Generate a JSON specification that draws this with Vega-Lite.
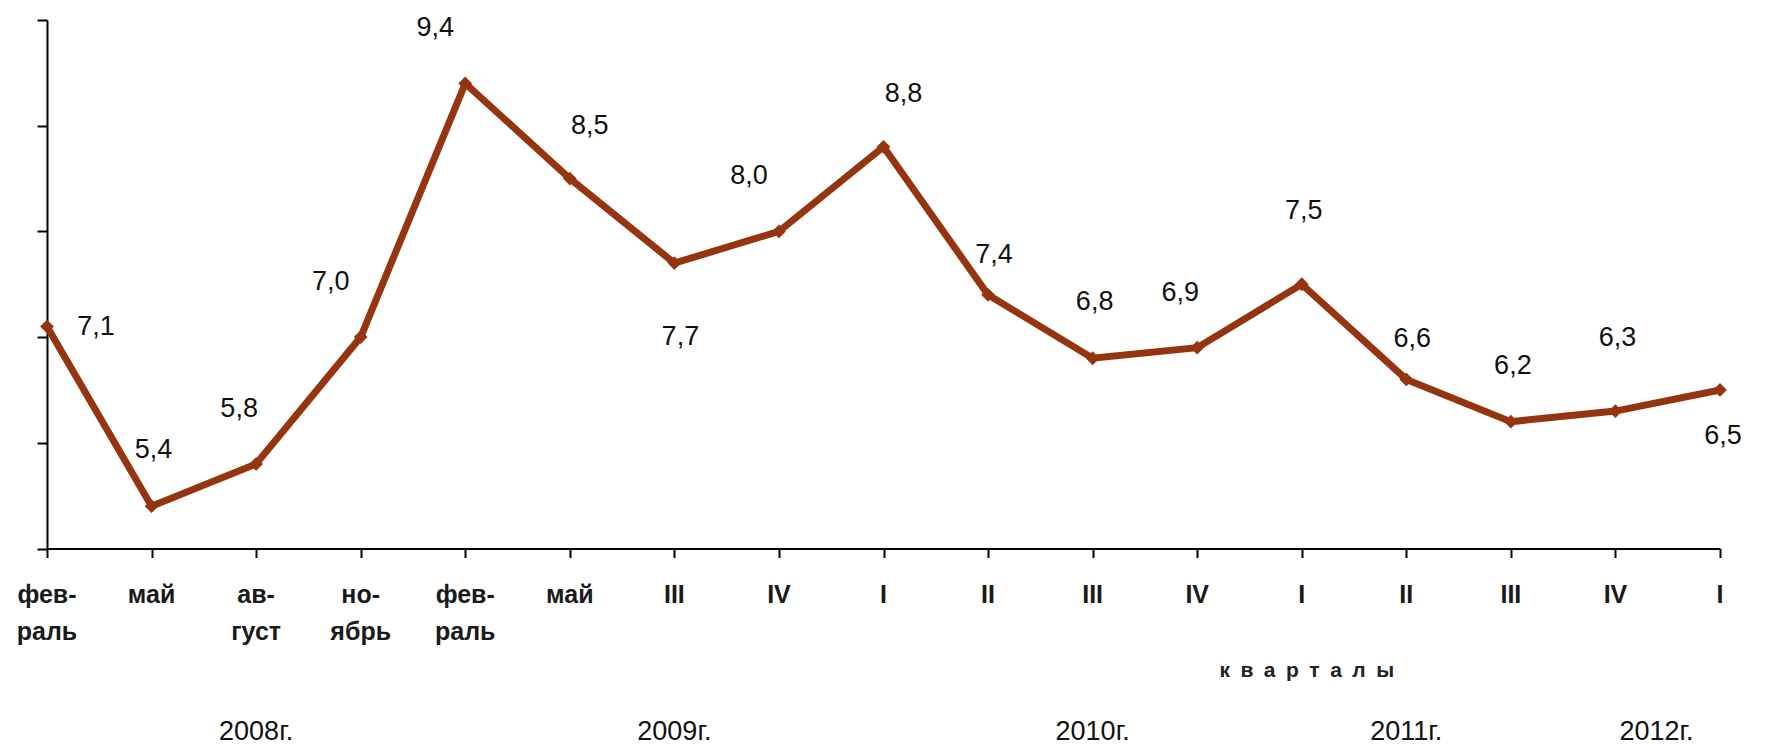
{
  "$schema": "https://vega.github.io/schema/vega-lite/v6.json",
  "autosize": {"type": "none"},
  "width": 1673,
  "height": 528.5,
  "padding": {"left": 47, "top": 20, "right": 46, "bottom": 203.5},
  "background": "white",
  "config": {
    "view": {"stroke": null},
    "font": "Liberation Sans",
    "locale": {"number": {"decimal": ",", "thousands": " ", "grouping": [3], "currency": ["", ""]}}
  },
  "datasets": {
    "main": [
      {"period": "2008-02", "label": "фев-|раль", "value": 7.1},
      {"period": "2008-05", "label": "май", "value": 5.4},
      {"period": "2008-08", "label": "ав-|густ", "value": 5.8},
      {"period": "2008-11", "label": "но-|ябрь", "value": 7.0},
      {"period": "2009-02", "label": "фев-|раль", "value": 9.4},
      {"period": "2009-05", "label": "май", "value": 8.5},
      {"period": "2009-Q3", "label": "III", "value": 7.7},
      {"period": "2009-Q4", "label": "IV", "value": 8.0},
      {"period": "2010-Q1", "label": "I", "value": 8.8},
      {"period": "2010-Q2", "label": "II", "value": 7.4},
      {"period": "2010-Q3", "label": "III", "value": 6.8},
      {"period": "2010-Q4", "label": "IV", "value": 6.9},
      {"period": "2011-Q1", "label": "I", "value": 7.5},
      {"period": "2011-Q2", "label": "II", "value": 6.6},
      {"period": "2011-Q3", "label": "III", "value": 6.2},
      {"period": "2011-Q4", "label": "IV", "value": 6.3},
      {"period": "2012-Q1", "label": "I", "value": 6.5}
    ],
    "years": [
      {"period": "2008-08", "text": "2008г."},
      {"period": "2009-Q3", "text": "2009г."},
      {"period": "2010-Q3", "text": "2010г."},
      {"period": "2011-Q2", "text": "2011г."},
      {"period": "2011-Q4", "text": "2012г."}
    ],
    "notes": [
      {"period": "2011-Q1", "text": "к\u2002в\u2002а\u2002р\u2002т\u2002а\u2002л\u2002ы"}
    ]
  },
  "encoding": {
    "x": {
      "field": "period", "type": "ordinal", "sort": null,
      "scale": {"type": "point", "padding": 0},
      "axis": {"labels": false, "title": null, "domainColor": "black", "domainWidth": 2, "tickColor": "black", "tickWidth": 2, "tickSize": 9, "grid": false}
    }
  },
  "layer": [
    {
      "data": {"name": "main"},
      "mark": {"type": "line", "color": "#953510", "strokeWidth": 7, "strokeJoin": "miter", "point": {"shape": "diamond", "size": 190, "filled": true, "color": "#953510", "opacity": 1}},
      "encoding": {
        "y": {
          "field": "value", "type": "quantitative",
          "scale": {"domain": [5, 10], "nice": false, "zero": false},
          "axis": {"labels": false, "title": null, "values": [5, 6, 7, 8, 9, 10], "domainColor": "black", "domainWidth": 2, "tickColor": "black", "tickWidth": 2, "tickSize": 10, "grid": false}
        }
      }
    },
    {
      "data": {"name": "main"},
      "transform": [{"filter": {"field": "period", "oneOf": ["2008-11", "2009-02", "2009-Q4"]}}],
      "mark": {"type": "text", "fontSize": 27, "color": "#111", "dx": -30, "dy": -55},
      "encoding": {"y": {"field": "value", "type": "quantitative"}, "text": {"field": "value", "type": "quantitative", "format": ".1f"}}
    },
    {
      "data": {"name": "main"},
      "transform": [{"filter": {"field": "period", "oneOf": ["2008-08", "2010-Q4"]}}],
      "mark": {"type": "text", "fontSize": 27, "color": "#111", "dx": -17, "dy": -55},
      "encoding": {"y": {"field": "value", "type": "quantitative"}, "text": {"field": "value", "type": "quantitative", "format": ".1f"}}
    },
    {
      "data": {"name": "main"},
      "transform": [{"filter": {"field": "period", "oneOf": ["2009-05", "2010-Q1"]}}],
      "mark": {"type": "text", "fontSize": 27, "color": "#111", "dx": 20, "dy": -53},
      "encoding": {"y": {"field": "value", "type": "quantitative"}, "text": {"field": "value", "type": "quantitative", "format": ".1f"}}
    },
    {
      "data": {"name": "main"},
      "transform": [{"filter": {"field": "period", "oneOf": ["2008-05", "2010-Q3", "2011-Q3"]}}],
      "mark": {"type": "text", "fontSize": 27, "color": "#111", "dx": 2, "dy": -56},
      "encoding": {"y": {"field": "value", "type": "quantitative"}, "text": {"field": "value", "type": "quantitative", "format": ".1f"}}
    },
    {
      "data": {"name": "main"},
      "transform": [{"filter": {"field": "period", "oneOf": ["2011-Q1", "2011-Q4"]}}],
      "mark": {"type": "text", "fontSize": 27, "color": "#111", "dx": 2, "dy": -73},
      "encoding": {"y": {"field": "value", "type": "quantitative"}, "text": {"field": "value", "type": "quantitative", "format": ".1f"}}
    },
    {
      "data": {"name": "main"},
      "transform": [{"filter": {"field": "period", "oneOf": ["2010-Q2", "2011-Q2"]}}],
      "mark": {"type": "text", "fontSize": 27, "color": "#111", "dx": 6, "dy": -40},
      "encoding": {"y": {"field": "value", "type": "quantitative"}, "text": {"field": "value", "type": "quantitative", "format": ".1f"}}
    },
    {
      "data": {"name": "main"},
      "transform": [{"filter": {"field": "period", "equal": "2009-Q3"}}],
      "mark": {"type": "text", "fontSize": 27, "color": "#111", "dx": 6, "dy": 74},
      "encoding": {"y": {"field": "value", "type": "quantitative"}, "text": {"field": "value", "type": "quantitative", "format": ".1f"}}
    },
    {
      "data": {"name": "main"},
      "transform": [{"filter": {"field": "period", "equal": "2012-Q1"}}],
      "mark": {"type": "text", "fontSize": 27, "color": "#111", "dx": 3, "dy": 46},
      "encoding": {"y": {"field": "value", "type": "quantitative"}, "text": {"field": "value", "type": "quantitative", "format": ".1f"}}
    },
    {
      "data": {"name": "main"},
      "transform": [{"filter": {"field": "period", "equal": "2008-02"}}],
      "mark": {"type": "text", "fontSize": 27, "color": "#111", "dx": 49, "dy": 0},
      "encoding": {"y": {"field": "value", "type": "quantitative"}, "text": {"field": "value", "type": "quantitative", "format": ".1f"}}
    },
    {
      "data": {"name": "main"},
      "mark": {"type": "text", "fontSize": 25, "fontWeight": "bold", "color": "#1a1a1a", "baseline": "top", "dy": 34, "lineBreak": "|", "lineHeight": 37},
      "encoding": {"y": {"datum": 5}, "text": {"field": "label"}}
    },
    {
      "data": {"name": "years"},
      "transform": [{"filter": {"field": "text", "oneOf": ["2008г.", "2009г.", "2010г.", "2011г."]}}],
      "mark": {"type": "text", "fontSize": 27, "color": "#111", "baseline": "alphabetic", "dy": 191},
      "encoding": {"y": {"datum": 5}, "text": {"field": "text"}}
    },
    {
      "data": {"name": "years"},
      "transform": [{"filter": {"field": "text", "equal": "2012г."}}],
      "mark": {"type": "text", "fontSize": 27, "color": "#111", "baseline": "alphabetic", "dy": 191, "dx": 41},
      "encoding": {"y": {"datum": 5}, "text": {"field": "text"}}
    },
    {
      "data": {"name": "notes"},
      "mark": {"type": "text", "fontSize": 21, "fontWeight": "bold", "color": "#222", "baseline": "alphabetic", "dy": 128, "dx": 5},
      "encoding": {"y": {"datum": 5}, "text": {"field": "text"}}
    }
  ]
}
